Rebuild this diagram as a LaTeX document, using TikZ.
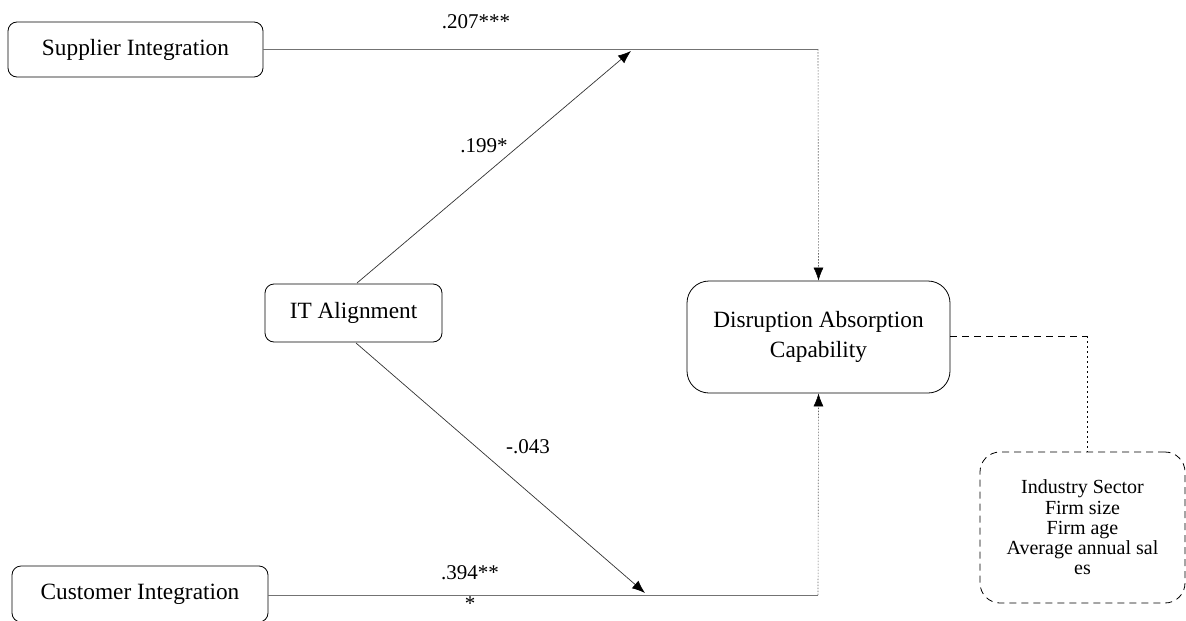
\documentclass[tikz,border=0pt]{standalone}
\usepackage{fontspec}
\setmainfont{Liberation Serif}
\usetikzlibrary{arrows.meta}
\begin{document}
\begin{tikzpicture}[x=1pt,y=-1pt,
  box/.style={draw,thick,rounded corners=9pt,align=center,inner sep=0pt,font=\fontsize{23.3}{30}\selectfont},
  ctrlbox/.style={draw,thick,dashed,dash pattern=on 7pt off 5pt,rounded corners=20pt,align=center,inner sep=0pt,font=\fontsize{20}{20.3}\selectfont},
  lbl/.style={font=\fontsize{21}{24}\selectfont,inner sep=0pt},
  solidline/.style={draw=black!55,line width=0.8pt},
  dotline/.style={draw=black!60,line width=0.6pt,dash pattern=on 1.5pt off 1.5pt},
  arr/.style={-{Latex[length=13pt,width=10pt,color=black]}},
  diag/.style={draw=black!80,line width=0.7pt}
]
\useasboundingbox (0,0) rectangle (1186,621);
\node[box,minimum width=255pt,minimum height=55pt] (sup) at (135.5,49.5) {Supplier Integration};
\node[box,minimum width=177pt,minimum height=58pt] (it) at (353.5,313) {IT Alignment};
\node[box,minimum width=256pt,minimum height=56pt] (cus) at (140,594) {Customer Integration};
\node[box,minimum width=263pt,minimum height=112pt,rounded corners=22pt] (dac) at (818.5,337) {Disruption Absorption\\Capability};
\node[ctrlbox,minimum width=205pt,minimum height=151pt] (ctrl) at (1082.5,527.5) {Industry Sector\\Firm size\\Firm age\\Average annual sal\\es};

\coordinate (tc) at (818,49);
\coordinate (bc) at (818,595);
\coordinate (t1) at (631,51);
\coordinate (t2) at (645,593);
\coordinate (s1) at (357,283);
\coordinate (s2) at (356,343);
\coordinate (cc) at (1087,336);

\draw[solidline] (sup.east |- tc) -- (tc);
\draw[dotline,arr] (tc) -- (dac.north);
\draw[solidline] (cus.east |- bc) -- (bc);
\draw[dotline,arr] (bc) -- (dac.south);
\draw[diag,arr] (s1) -- (t1);
\draw[diag,arr] (s2) -- (t2);
\draw[thick,dash pattern=on 7pt off 5pt] (dac.east |- cc) -- (cc);
\draw[thick,dash pattern=on 2pt off 3pt] (cc) -- (cc |- ctrl.north);

\node[lbl] (l1) at (476,22) {.207***};
\node[lbl] (l2) at (484,146) {.199*};
\node[lbl] (l3) at (528,447) {-.043};
\node[lbl] (l4) at (470,573) {.394**};
\node[lbl] (l5) at (470,604) {*};
\end{tikzpicture}
\end{document}
